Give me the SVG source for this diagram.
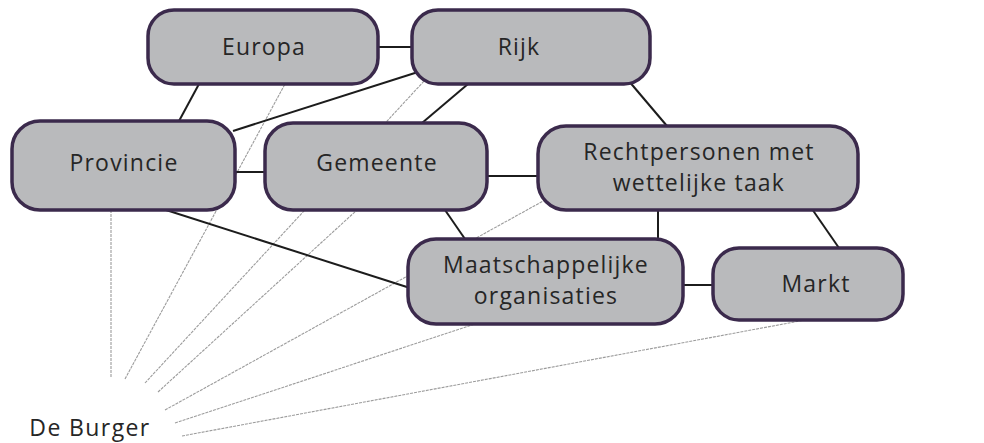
<svg xmlns="http://www.w3.org/2000/svg" width="984" height="443" viewBox="0 0 984 443">
<style>
.box{fill:#b9babc;stroke:#3b2a4c;stroke-width:3.5}
.lbl{font-family:"Open Sans","DejaVu Sans",sans-serif;font-size:23px;fill:#262626;text-anchor:middle;letter-spacing:1.2px}
.c{stroke:#1c1c1c;stroke-width:2;fill:none}
.g{stroke:#9c9c9c;stroke-width:1.1;fill:none;stroke-dasharray:3 1}
</style>
<rect width="984" height="443" fill="#ffffff"/>
<g id="connectors">
<line class="g" x1="111" y1="210" x2="111" y2="378"/>
<line class="g" x1="125" y1="379" x2="285" y2="84"/>
<line class="g" x1="145" y1="383" x2="425" y2="80"/>
<line class="g" x1="158" y1="392" x2="357" y2="210"/>
<line class="g" x1="165" y1="410" x2="545" y2="200"/>
<line class="g" x1="175" y1="423" x2="475" y2="324"/>
<line class="g" x1="182" y1="436" x2="805" y2="320"/>
<line class="c" x1="378" y1="47" x2="412" y2="47"/>
<line class="c" x1="199" y1="84" x2="179" y2="121"/>
<line class="c" x1="418" y1="72" x2="233" y2="131"/>
<line class="c" x1="468" y1="84" x2="422" y2="123"/>
<line class="c" x1="628" y1="80" x2="667" y2="126"/>
<line class="c" x1="235" y1="172" x2="265" y2="172"/>
<line class="c" x1="487" y1="176" x2="538" y2="176"/>
<line class="c" x1="445" y1="210" x2="465" y2="239"/>
<line class="c" x1="166" y1="210" x2="410" y2="288"/>
<line class="c" x1="658" y1="210" x2="658" y2="239"/>
<line class="c" x1="812" y1="209" x2="839" y2="248"/>
<line class="c" x1="683" y1="285" x2="713" y2="285"/>
</g>
<g id="europa"><rect class="box" x="148" y="10" width="230" height="74" rx="26"/><text class="lbl" x="264" y="55">Europa</text></g>
<g id="rijk"><rect class="box" x="412" y="10" width="238" height="74" rx="26"/><text class="lbl" x="519" y="55">Rijk</text></g>
<g id="provincie"><rect class="box" x="12" y="121" width="223" height="89" rx="28"/><text class="lbl" x="124" y="171">Provincie</text></g>
<g id="gemeente"><rect class="box" x="265" y="123" width="222" height="87" rx="28"/><text class="lbl" x="377" y="171">Gemeente</text></g>
<g id="rechtpersonen"><rect class="box" x="538" y="126" width="320" height="84" rx="28"/><text class="lbl" x="699" y="160">Rechtpersonen met</text><text class="lbl" x="699" y="191">wettelijke taak</text></g>
<g id="maatschappelijke"><rect class="box" x="408" y="239" width="275" height="85" rx="28"/><text class="lbl" x="546" y="273">Maatschappelijke</text><text class="lbl" x="546" y="304">organisaties</text></g>
<g id="markt"><rect class="box" x="713" y="248" width="190" height="72" rx="26"/><text class="lbl" x="816" y="292">Markt</text></g>
<g id="burger"><text class="lbl" x="90" y="436" style="font-size:23px;letter-spacing:1.4px">De Burger</text></g>
</svg>
